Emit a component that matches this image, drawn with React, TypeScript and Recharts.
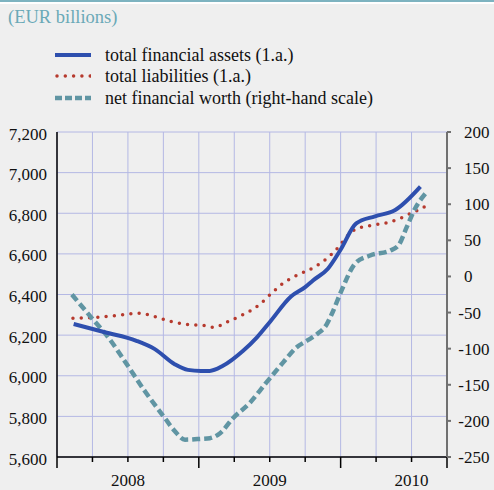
import { LineChart, Line, XAxis, YAxis, CartesianGrid } from 'recharts'

const FONT = 'Liberation Serif'

// time runs in quarters since the start of 2008
const quarterTicks = [0, 1, 2, 3, 4, 5, 6, 7, 8, 9, 10, 11]
const yearStarts = [0, 4, 8, 11]
const yearLabelAt = [2, 6, 10]
const yearLabels = ['2008', '2009', '2010']

const leftTicks = [5600, 5800, 6000, 6200, 6400, 6600, 6800, 7000, 7200]
const rightTicks = [-250, -200, -150, -100, -50, 0, 50, 100, 150, 200]

// total financial assets (EUR bn)
const assetsT = [0.47, 1.35, 2.24, 2.76, 3.32, 3.69, 4.06, 4.31, 4.68, 5.25, 5.64, 6.01, 6.6, 7.0, 7.22, 7.64, 7.99, 8.44, 8.97, 9.54, 10.25]
const assetsV = [6255, 6214, 6172, 6131, 6057, 6029, 6024, 6024, 6049, 6123, 6189, 6266, 6390, 6436, 6469, 6527, 6618, 6750, 6785, 6816, 6931]

// total liabilities (EUR bn)
const liabT = [0.45, 1.16, 1.86, 2.34, 2.76, 3.23, 3.7, 4.17, 4.41, 4.83, 5.25, 5.68, 6.01, 6.38, 6.76, 7.23, 7.61, 7.94, 8.18, 8.41, 8.88, 9.35, 9.77, 10.01, 10.23, 10.44]
const liabV = [6283, 6288, 6300, 6308, 6291, 6267, 6252, 6247, 6238, 6267, 6301, 6346, 6399, 6456, 6494, 6532, 6577, 6634, 6687, 6720, 6741, 6755, 6782, 6802, 6819, 6840]

// net financial worth (right-hand scale)
const netT = [0.42, 0.97, 1.44, 1.96, 2.48, 3.04, 3.32, 3.61, 4.03, 4.31, 4.6, 4.97, 5.44, 5.87, 6.38, 6.76, 7.05, 7.33, 7.61, 7.75, 8.03, 8.41, 8.83, 9.4, 9.63, 9.87, 10.1, 10.43]
const netV = [-25, -57, -84, -121, -159, -196, -214, -226, -225, -224, -217, -196, -175, -149, -119, -98, -89, -80, -66, -52, -19, 18, 29, 36, 43, 69, 94, 117]

const toRows = (t: number[], v: number[]) => t.map((x, i) => ({ t: x, v: v[i] }))

const assets = toRows(assetsT, assetsV)
const liabilities = toRows(liabT, liabV)
const netWorth = toRows(netT, netV)

const BLUE = '#2e4fae'
const RED = '#b63a2e'
const TEAL = '#6095a3'

const fmt = (n: number) => n.toLocaleString('en-US')

const txt = { fontFamily: FONT, fontSize: 17 }

const QuarterTick = (props: any) => {
  const { x, y, payload } = props
  const q = payload.value
  const idx = yearLabelAt.indexOf(q)
  return (
    <g>
      <line x1={x} x2={x} y1={y} y2={y + (yearStarts.includes(q) ? 11 : 5)} stroke="#000" strokeWidth={1.5} />
      {idx >= 0 && (
        <text x={x} y={y + 29} textAnchor="middle" style={txt} fill="#111">
          {yearLabels[idx]}
        </text>
      )}
    </g>
  )
}

const LeftTick = (props: any) => {
  const { x, y, payload } = props
  return (
    <text x={x - 10} y={y + 7.5} textAnchor="end" style={txt} fill="#111">
      {fmt(payload.value)}
    </text>
  )
}

const RightTick = (props: any) => {
  const { x, y, payload } = props
  const v = payload.value
  return (
    <g>
      <line x1={x} x2={x + 4} y1={y} y2={y} stroke="#707070" strokeWidth={2} />
      {v < 0 && (
        <text x={x + 17} y={y + 6} textAnchor="end" style={txt} fill="#111">
          -
        </text>
      )}
      <text x={x + 17} y={y + 6} textAnchor="start" style={txt} fill="#111">
        {Math.abs(v)}
      </text>
    </g>
  )
}

const legendItems = [
  { label: 'total financial assets (1.a.)', color: BLUE, dash: undefined, width: 4, cap: 'butt' },
  { label: 'total liabilities (1.a.)', color: RED, dash: '0 8.3', width: 3.5, cap: 'round' },
  { label: 'net financial worth (right-hand scale)', color: TEAL, dash: '7 3', width: 4.5, cap: 'butt' },
]

export default function App() {
  return (
    <div
      style={{
        position: 'absolute',
        left: 0,
        top: 0,
        width: 494,
        height: 490,
        background: '#efefef',
        fontFamily: FONT,
        overflow: 'hidden',
      }}
    >
      <div style={{ position: 'absolute', left: 0, top: 0, width: 494, height: 2, background: '#7db3c0' }} />
      <div style={{ position: 'absolute', left: 0, top: 2, width: 494, height: 2, background: '#ffffff' }} />
      <div style={{ position: 'absolute', left: 8, top: 5, fontSize: 18.5, color: '#6aa9b7', lineHeight: '24px' }}>
        (EUR billions)
      </div>
      <div style={{ position: 'absolute', left: 55, top: 44 }}>
        {legendItems.map((it) => (
          <div key={it.label} style={{ display: 'flex', alignItems: 'center', height: 21.5 }}>
            <svg width={36} height={10} style={{ marginRight: 14 }}>
              <line
                x1={it.cap === 'round' ? 2 : 0}
                x2={36}
                y1={5}
                y2={5}
                stroke={it.color}
                strokeWidth={it.width}
                strokeDasharray={it.dash}
                strokeLinecap={it.cap as any}
              />
            </svg>
            <span style={{ fontSize: 18, color: '#111', whiteSpace: 'nowrap', lineHeight: '20px' }}>{it.label}</span>
          </div>
        ))}
      </div>
      <div style={{ position: 'absolute', left: 0, top: 0 }}>
        <LineChart width={494} height={490} margin={{ top: 132, right: 0, bottom: 0, left: 0 }}>
          <CartesianGrid stroke="#b4b8e4" strokeWidth={1} />
          <XAxis
            dataKey="t"
            type="number"
            domain={[0, 11]}
            ticks={quarterTicks}
            interval={0}
            height={33}
            tickSize={0}
            tickMargin={0}
            tick={<QuarterTick />}
            axisLine={{ stroke: '#000', strokeWidth: 1.5 }}
            allowDataOverflow
          />
          <YAxis
            domain={[5600, 7200]}
            ticks={leftTicks}
            interval={0}
            width={57}
            tickSize={0}
            tickMargin={0}
            tick={<LeftTick />}
            axisLine={{ stroke: '#000', strokeWidth: 1.5 }}
          />
          <YAxis
            yAxisId="right"
            orientation="right"
            domain={[-250, 200]}
            ticks={rightTicks}
            interval={0}
            width={47}
            tickSize={0}
            tickMargin={0}
            tick={<RightTick />}
            axisLine={{ stroke: '#707070', strokeWidth: 2 }}
          />
          <Line
            data={liabilities}
            dataKey="v"
            type="monotone"
            stroke={RED}
            strokeWidth={3.5}
            strokeDasharray="0 8.3"
            strokeLinecap="round"
            dot={false}
            activeDot={false}
            isAnimationActive={false}
          />
          <Line
            yAxisId="right"
            data={netWorth}
            dataKey="v"
            type="monotone"
            stroke={TEAL}
            strokeWidth={4.5}
            strokeDasharray="8 4"
            dot={false}
            activeDot={false}
            isAnimationActive={false}
          />
          <Line
            data={assets}
            dataKey="v"
            type="monotone"
            stroke={BLUE}
            strokeWidth={4}
            dot={false}
            activeDot={false}
            isAnimationActive={false}
          />
        </LineChart>
      </div>
    </div>
  )
}
